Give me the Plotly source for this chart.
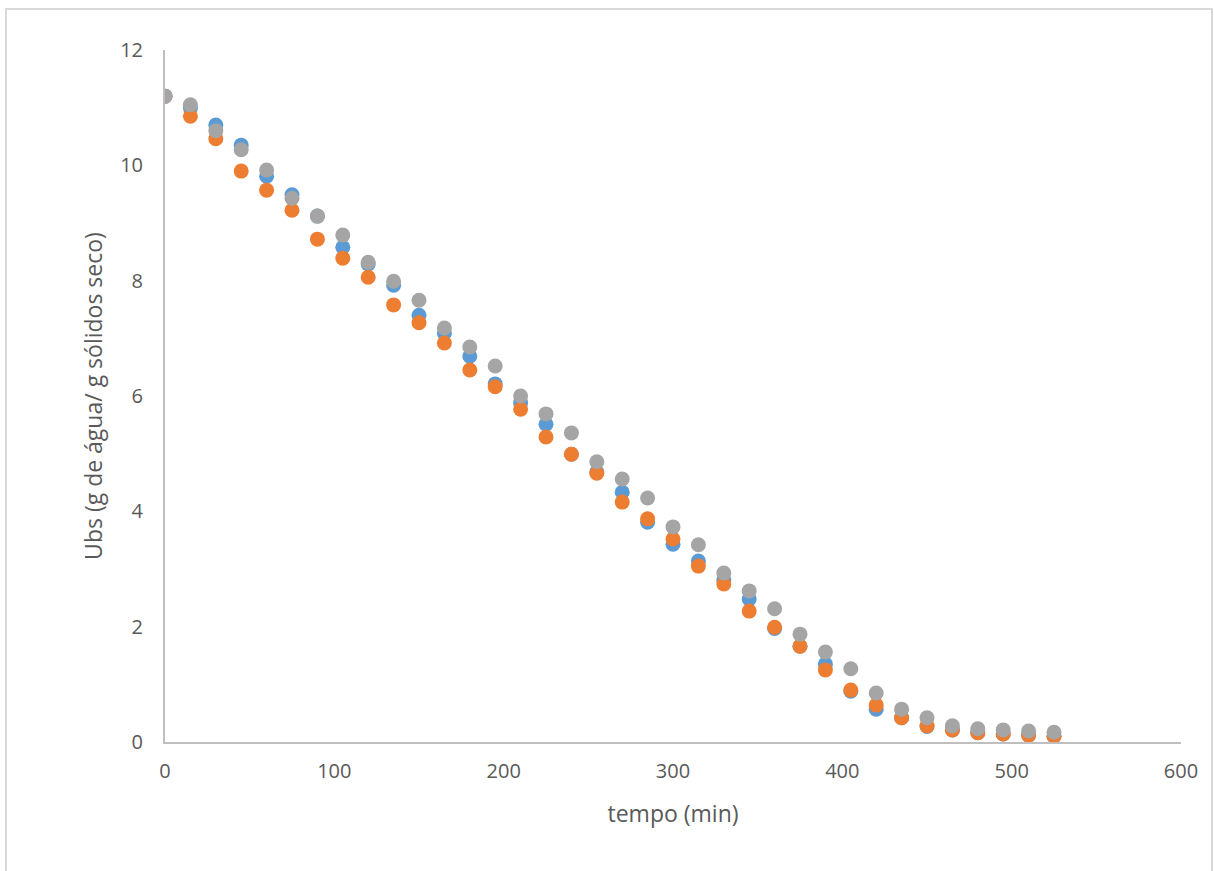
import plotly.graph_objects as go

# Drying time (min)
tempo = [0, 15, 30, 45, 60, 75, 90, 105, 120, 135, 150, 165, 180, 195, 210,
         225, 240, 255, 270, 285, 300, 315, 330, 345, 360, 375, 390, 405, 420,
         435, 450, 465, 480, 495, 510, 525]

# Moisture content, dry basis (g water / g dry solids), three runs
ubs_azul = [11.20, 11.00, 10.70, 10.35, 9.81, 9.49, 9.12, 8.58, 8.29, 7.92,
            7.40, 7.09, 6.69, 6.21, 5.88, 5.51, 4.99, 4.68, 4.33, 3.81,
            3.43, 3.14, 2.81, 2.48, 1.97, 1.66, 1.35, 0.88, 0.57, 0.42,
            0.27, 0.21, 0.16, 0.14, 0.12, 0.10]
ubs_laranja = [11.20, 10.85, 10.46, 9.90, 9.57, 9.22, 8.72, 8.39, 8.06, 7.58,
               7.27, 6.92, 6.45, 6.16, 5.77, 5.29, 4.99, 4.66, 4.16, 3.87,
               3.52, 3.05, 2.74, 2.27, 1.99, 1.66, 1.25, 0.90, 0.64, 0.42,
               0.28, 0.21, 0.16, 0.14, 0.12, 0.10]
ubs_cinza = [11.20, 11.05, 10.60, 10.27, 9.92, 9.43, 9.12, 8.79, 8.32, 7.99,
             7.66, 7.18, 6.85, 6.52, 6.00, 5.69, 5.36, 4.86, 4.56, 4.23,
             3.73, 3.42, 2.93, 2.62, 2.31, 1.87, 1.56, 1.27, 0.85, 0.57,
             0.42, 0.28, 0.23, 0.21, 0.19, 0.17]

x_ticks = [0, 100, 200, 300, 400, 500, 600]
y_ticks = [0, 2, 4, 6, 8, 10, 12]

FONT = "Open Sans"
TXT = "#595959"
AXIS = "#BFBFBF"

fig = go.Figure()
for nome, y, cor in [("Série 1", ubs_azul, "#5B9BD5"),
                     ("Série 2", ubs_laranja, "#ED7D31"),
                     ("Série 3", ubs_cinza, "#A5A5A5")]:
    fig.add_trace(go.Scatter(
        x=tempo, y=y, mode="markers", name=nome,
        marker=dict(size=15, color=cor, line=dict(width=0)),
    ))

# Light outer frame around the chart area
fig.add_shape(type="rect", xref="paper", yref="paper",
              x0=-0.1565, x1=1.0305, y0=-0.3, y1=1.0592,
              line=dict(color="#D9D9D9", width=2), fillcolor="rgba(0,0,0,0)",
              layer="below")

fig.update_layout(
    width=1214, height=871,
    margin=dict(l=165, r=33, t=50, b=129),
    paper_bgcolor="white", plot_bgcolor="white",
    showlegend=False,
    font=dict(family=FONT, size=20, color=TXT),
    xaxis=dict(
        range=[0, 600], tickvals=x_ticks, showgrid=False, zeroline=False,
        showline=True, linecolor=AXIS, linewidth=2,
        ticks="outside", ticklen=10, tickcolor="rgba(0,0,0,0)",
        tickfont=dict(family=FONT, size=20, color=TXT),
        title=dict(text="tempo (min)", standoff=23,
                   font=dict(family=FONT, size=23, color=TXT)),
    ),
    yaxis=dict(
        range=[0, 12], tickvals=y_ticks, showgrid=False, zeroline=False,
        showline=True, linecolor=AXIS, linewidth=2,
        ticks="outside", ticklen=16, tickcolor="rgba(0,0,0,0)",
        tickfont=dict(family=FONT, size=20, color=TXT),
        title=dict(text="Ubs (g de água/ g sólidos seco)", standoff=11,
                   font=dict(family=FONT, size=23, color=TXT)),
    ),
)

fig.write_html("out.html")
